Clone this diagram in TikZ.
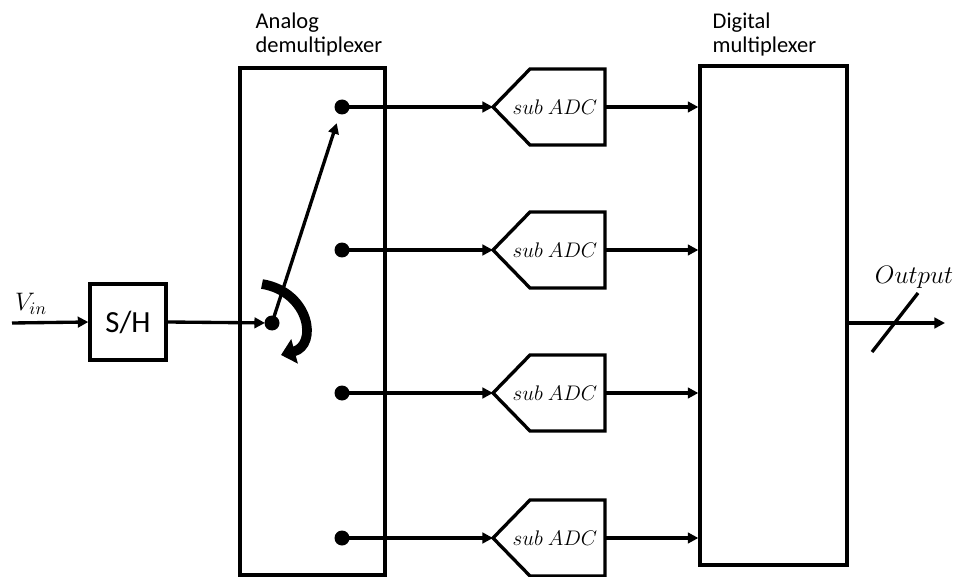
\documentclass[tikz,border=0pt]{standalone}
\usepackage{fontspec}
\setmainfont{Carlito}
\usetikzlibrary{arrows.meta,positioning}

\begin{document}
\begin{tikzpicture}[x=0.02cm,y=-0.02cm,line width=1.9pt,
  every node/.style={font=\fontsize{12.8}{14.2}\selectfont},
  wire/.style={-{Triangle[length=6pt,width=6pt]}},
  block/.style={draw,line width=1.9pt,inner sep=0pt},
  mathlbl/.style={font=\fontsize{14}{16}\selectfont},
  adctxt/.style={inner sep=0pt,font=\fontsize{12.3}{14}\selectfont}]
\useasboundingbox (0,0) rectangle (955,577);
\coordinate (in) at (12,323);
\coordinate (pv) at (272,323);
\coordinate (d1) at (342,107);
\coordinate (d2) at (342,250);
\coordinate (d3) at (342,393);
\coordinate (d4) at (342,538);
\coordinate (out) at (945,323);
% blocks
\node[block,minimum width=1.52cm,minimum height=1.52cm,font=\fontsize{17.5}{19}\selectfont] (sh) at (128,322) {S/H};
\node[block,minimum width=2.9cm,minimum height=10.14cm] (demux) at (312.5,321.5) {};
\node[block,minimum width=2.94cm,minimum height=9.98cm] (mux) at (773.5,315.5) {};
\node[align=left,anchor=base west,inner sep=0pt] (demuxlbl) at (254,53) {Analog\\demultiplexer};
\node[align=left,anchor=base west,inner sep=0pt] (muxlbl) at (711,53) {Digital\\multiplexer};
% sub ADCs
\node[adctxt] (adc1) at (555,107) {$sub\ ADC$};
\node[adctxt] (adc2) at (555,250) {$sub\ ADC$};
\node[adctxt] (adc3) at (555,393) {$sub\ ADC$};
\node[adctxt] (adc4) at (555,538) {$sub\ ADC$};
\draw (adc1.center) ++(50,0) coordinate (e1) -- ++(0,-38) -- ++(-75,0) -- ++(-37,38) coordinate (a1) -- ++(37,38) -- ++(75,0) -- cycle;
\draw (adc2.center) ++(50,0) coordinate (e2) -- ++(0,-38) -- ++(-75,0) -- ++(-37,38) coordinate (a2) -- ++(37,38) -- ++(75,0) -- cycle;
\draw (adc3.center) ++(50,0) coordinate (e3) -- ++(0,-38) -- ++(-75,0) -- ++(-37,38) coordinate (a3) -- ++(37,38) -- ++(75,0) -- cycle;
\draw (adc4.center) ++(50,0) coordinate (e4) -- ++(0,-38) -- ++(-75,0) -- ++(-37,38) coordinate (a4) -- ++(37,38) -- ++(75,0) -- cycle;
% input side
\node[mathlbl] (vin) at (31,304) {$V_{in}$};
\draw[wire] (in) -- (sh.west);
\draw[wire,shorten >=0.14cm] (sh.east) -- (pv);
\draw[wire,shorten >=0.34cm] (pv) -- (d1);
\fill (pv) circle[radius=0.15cm];
\draw[line width=5.5pt,-{Triangle[length=8pt,width=14pt]}] (262,284) .. controls (310,292) and (318,345) .. (281,355);
% demux outputs
\fill (d1) circle[radius=0.15cm];
\fill (d2) circle[radius=0.15cm];
\fill (d3) circle[radius=0.15cm];
\fill (d4) circle[radius=0.15cm];
\draw[wire] (d1) -- (a1);
\draw[wire] (d2) -- (a2);
\draw[wire] (d3) -- (a3);
\draw[wire] (d4) -- (a4);
\draw[wire] (e1) -- (e1 -| mux.west);
\draw[wire] (e2) -- (e2 -| mux.west);
\draw[wire] (e3) -- (e3 -| mux.west);
\draw[wire] (e4) -- (e4 -| mux.west);
% output
\draw[wire] (mux.east |- out) -- (out);
\draw (872,352) -- (918,293);
\node[mathlbl] (outlbl) at (914,277) {$Output$};
\end{tikzpicture}
\end{document}
